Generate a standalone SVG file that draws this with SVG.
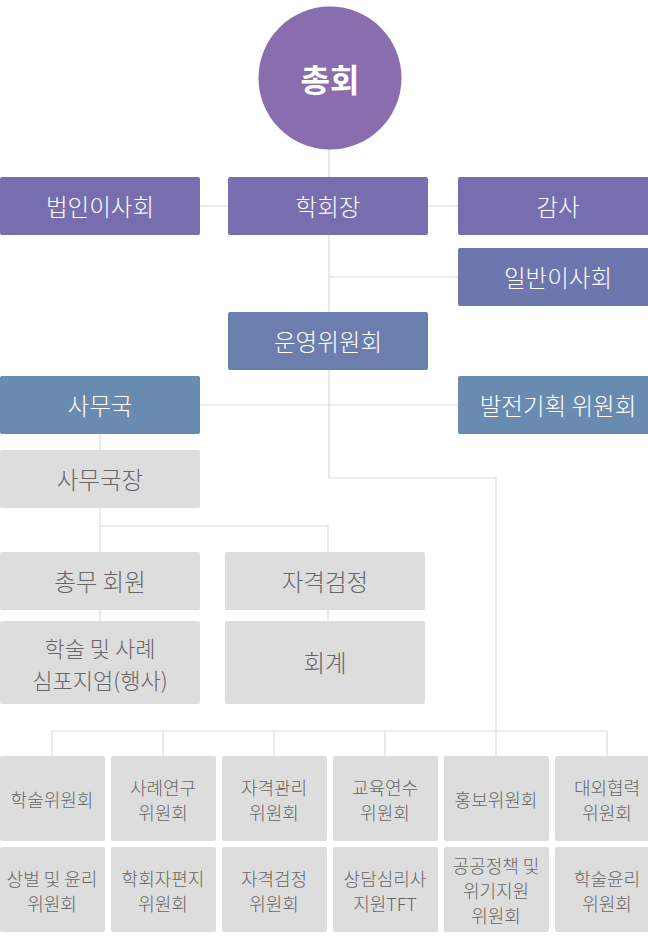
<svg xmlns="http://www.w3.org/2000/svg" width="648" height="936" viewBox="0 0 648 936">
<style>
text{font-family:"Noto Sans CJK KR","Noto Sans",sans-serif;text-anchor:middle;dominant-baseline:central}
.w{fill:#fff;font-size:23.5px;font-weight:300}
.g{fill:#666;font-size:23.5px;font-weight:300}
.g2{fill:#666;font-size:22px;font-weight:300}
.s{fill:#666;font-size:18px;font-weight:300}
.ln{stroke:#dcdcdc;stroke-width:1.2;fill:none}
.gray{fill:#dddddd}
</style>
<rect width="648" height="936" fill="#fff"/>
<g id="connectors">
<path class="ln" d="M329 149V312M200 206H228M428 206H458M329 277H458M329 370V478H496V756M200 405H458M100 434V552M100 526H328V552M100 610V621M328 610V621M52 756V731H607V756M163 731V756M274 731V756M385 731V756"/>
</g>
<g id="n-chonghoe"><circle cx="330" cy="78" r="71.5" fill="#8a6dae"/><text x="330" y="78" fill="#fff" font-size="32" font-weight="700">총회</text></g>
<g id="n-beobin"><rect x="0" y="177" width="200" height="58" rx="2" fill="#776eaf"/><text class="w" x="100" y="206">법인이사회</text></g>
<g id="n-hakhoejang"><rect x="228" y="177" width="200" height="58" rx="2" fill="#776eaf"/><text class="w" x="328" y="206">학회장</text></g>
<g id="n-gamsa"><rect x="458" y="177" width="200" height="58" rx="2" fill="#776eaf"/><text class="w" x="558" y="206">감사</text></g>
<g id="n-ilban"><rect x="458" y="248" width="200" height="58" rx="2" fill="#6e76ae"/><text class="w" x="558" y="277">일반이사회</text></g>
<g id="n-unyeong"><rect x="228" y="312" width="200" height="58" rx="2" fill="#6c7eae"/><text class="w" x="328" y="341">운영위원회</text></g>
<g id="n-samuguk"><rect x="0" y="376" width="200" height="58" rx="2" fill="#6a8bb0"/><text class="w" x="100" y="405">사무국</text></g>
<g id="n-baljeon"><rect x="458" y="376" width="200" height="58" rx="2" fill="#6a8bb0"/><text class="w" x="558" y="405">발전기획 위원회</text></g>
<g id="n-samugukjang"><rect class="gray" x="0" y="450" width="200" height="58" rx="2"/><text class="g" x="100" y="479">사무국장</text></g>
<g id="n-chongmu"><rect class="gray" x="0" y="552" width="200" height="58" rx="2"/><text class="g" x="100" y="581">총무 회원</text></g>
<g id="n-jagyeok"><rect class="gray" x="225" y="552" width="200" height="58" rx="2"/><text class="g" x="325" y="581">자격검정</text></g>
<g id="n-haksul-sympo"><rect class="gray" x="0" y="621" width="200" height="83" rx="2"/><text class="g2" x="100" y="647">학술 및 사례</text><text class="g2" x="100" y="679">심포지엄(행사)</text></g>
<g id="n-hoegye"><rect class="gray" x="225" y="621" width="200" height="83" rx="2"/><text class="g" x="325" y="662">회계</text></g>
<g id="c1"><rect class="gray" x="0" y="756" width="105" height="85" rx="2"/><text class="s" x="52" y="799">학술위원회</text></g>
<g id="c2"><rect class="gray" x="111" y="756" width="105" height="85" rx="2"/><text class="s" x="163" y="787">사례연구</text><text class="s" x="163" y="812">위원회</text></g>
<g id="c3"><rect class="gray" x="222" y="756" width="105" height="85" rx="2"/><text class="s" x="274" y="787">자격관리</text><text class="s" x="274" y="812">위원회</text></g>
<g id="c4"><rect class="gray" x="333" y="756" width="105" height="85" rx="2"/><text class="s" x="385" y="787">교육연수</text><text class="s" x="385" y="812">위원회</text></g>
<g id="c5"><rect class="gray" x="444" y="756" width="105" height="85" rx="2"/><text class="s" x="496" y="799">홍보위원회</text></g>
<g id="c6"><rect class="gray" x="555" y="756" width="105" height="85" rx="2"/><text class="s" x="607" y="787">대외협력</text><text class="s" x="607" y="812">위원회</text></g>
<g id="d1"><rect class="gray" x="0" y="847" width="105" height="85" rx="2"/><text class="s" x="52" y="878">상벌 및 윤리</text><text class="s" x="52" y="903">위원회</text></g>
<g id="d2"><rect class="gray" x="111" y="847" width="105" height="85" rx="2"/><text class="s" x="163" y="878">학회자편지</text><text class="s" x="163" y="903">위원회</text></g>
<g id="d3"><rect class="gray" x="222" y="847" width="105" height="85" rx="2"/><text class="s" x="274" y="878">자격검정</text><text class="s" x="274" y="903">위원회</text></g>
<g id="d4"><rect class="gray" x="333" y="847" width="105" height="85" rx="2"/><text class="s" x="385" y="878">상담심리사</text><text class="s" x="385" y="903">지원TFT</text></g>
<g id="d5"><rect class="gray" x="444" y="847" width="105" height="85" rx="2"/><text class="s" x="496" y="865">공공정책 및</text><text class="s" x="496" y="890">위기지원</text><text class="s" x="496" y="915">위원회</text></g>
<g id="d6"><rect class="gray" x="555" y="847" width="105" height="85" rx="2"/><text class="s" x="607" y="878">학술윤리</text><text class="s" x="607" y="903">위원회</text></g>
</svg>
